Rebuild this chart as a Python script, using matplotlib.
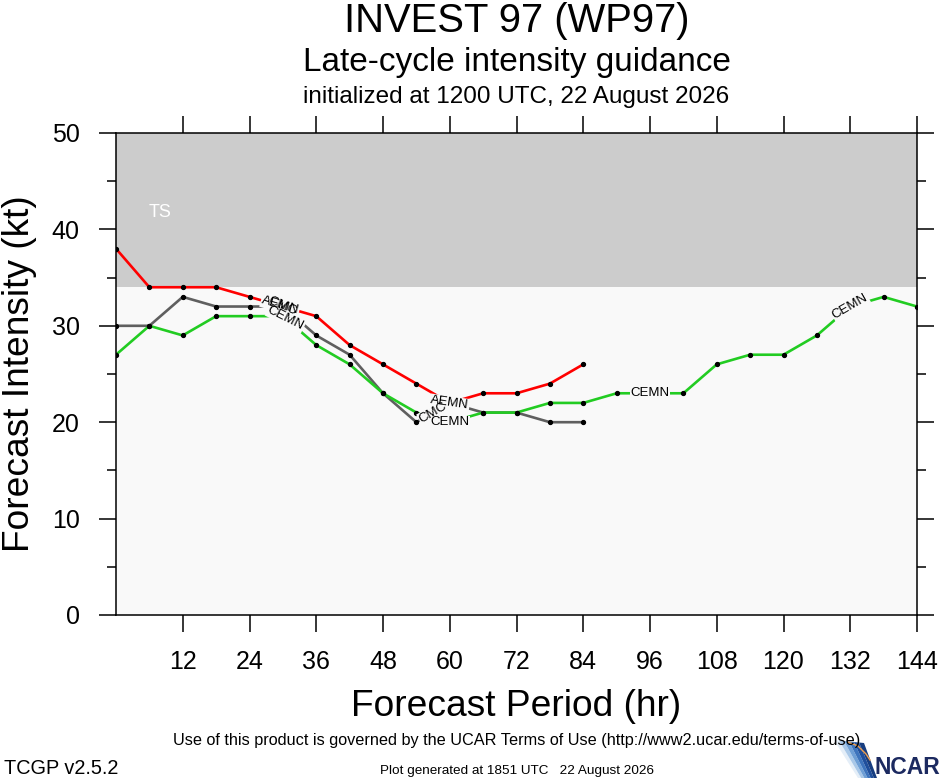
import numpy as np
import matplotlib
matplotlib.use("Agg")
from matplotlib import pyplot as plt
from matplotlib.patches import Polygon

plt.rcParams['font.family'] = ['Liberation Sans', 'DejaVu Sans']

# forecast data (kt)
hours_short = [0, 6, 12, 18, 24, 30, 36, 42, 48, 54, 60, 66, 72, 78, 84]
aemn = [38, 34, 34, 34, 33, 32, 31, 28, 26, 24, 22, 23, 23, 24, 26]
cmc = [30, 30, 33, 32, 32, 32, 29, 27, 23, 20, 22, 21, 21, 20, 20]
hours_long = [0, 6, 12, 18, 24, 30, 36, 42, 48, 54, 60, 66, 72, 78, 84,
              90, 96, 102, 108, 114, 120, 126, 132, 138, 144]
cemn = [27, 30, 29, 31, 31, 31, 28, 26, 23, 21, 20, 21, 21, 22, 22,
        23, 23, 23, 26, 27, 27, 29, 32, 33, 32]

# where the model names sit along each line
aemn_label_hours = [29.5, 60]
cmc_label_hours = [30, 57]
cemn_label_hours = [30.5, 60, 96, 132]

xticks = [12, 24, 36, 48, 60, 72, 84, 96, 108, 120, 132, 144]
yticks = [0, 10, 20, 30, 40, 50]

ts_threshold = 34
low_bg = '#f9f9f9'

fig = plt.figure(figsize=(9.4, 7.8), dpi=100)
ax = fig.add_axes([116 / 940, 1 - 615 / 780, 801 / 940, 482 / 780])
ax.set_xlim(0, 144)
ax.set_ylim(0, 50)

# intensity bands
ax.axhspan(0, ts_threshold, color=low_bg, zorder=0, lw=0)
ax.axhspan(ts_threshold, 50, color='#cccccc', zorder=0, lw=0)
ax.text(8, 41.8, 'TS', color='white', fontsize=13, ha='center', va='center')

series = [
    (hours_short, aemn, '#ff0000', 'AEMN', aemn_label_hours),
    (hours_short, cmc, '#5f5f5f', 'CMC', cmc_label_hours),
    (hours_long, cemn, '#22cc22', 'CEMN', cemn_label_hours),
]

for hrs, vals, col, name, lab in series:
    ax.plot(hrs, vals, color=col, lw=1.9, zorder=2, solid_capstyle='butt')
    ax.plot(hrs, vals, ls='none', marker='o', ms=2.8, color='black', zorder=3)

# labels along lines: first mask boxes, then text on top
trans = ax.transData
for hrs, vals, col, name, lab in series:
    for h in lab:
        y = np.interp(h, hrs, vals)
        h0, h1 = max(h - 3, hrs[0]), min(h + 3, hrs[-1])
        p0 = trans.transform((h0, np.interp(h0, hrs, vals)))
        p1 = trans.transform((h1, np.interp(h1, hrs, vals)))
        ang = np.degrees(np.arctan2(p1[1] - p0[1], p1[0] - p0[0]))
        ax.text(h, y, name, fontsize=9.5, ha='center', va='center',
                rotation=ang, rotation_mode='anchor', color='none',
                bbox=dict(facecolor=low_bg, edgecolor='none', pad=0.5),
                zorder=4)
        ax.text(h, y, name, fontsize=9.5, ha='center', va='center',
                rotation=ang, rotation_mode='anchor', color='black', zorder=5)

ax.set_xticks(xticks)
ax.set_yticks(yticks)
ax.set_yticks([5, 15, 25, 35, 45], minor=True)
ax.tick_params(axis='both', which='major', direction='out', length=12.2,
               width=1.1, labelsize=18, pad=13,
               top=True, right=True)
ax.tick_params(axis='y', which='minor', direction='out', length=6.2,
               width=1.1, left=True, right=True)
ax.tick_params(axis='y', which='major', pad=14)
for sp in ax.spines.values():
    sp.set_linewidth(1.1)

ax.set_xlabel('Forecast Period (hr)', fontsize=26.7, labelpad=11)
ax.set_ylabel('Forecast Intensity (kt)', fontsize=26.7)
ax.yaxis.set_label_coords(-0.099, 0.5)

# titles
cx = 516.5 / 940
fig.text(cx, 1 - 21 / 780, 'INVEST 97 (WP97)', fontsize=28.8,
         ha='center', va='center')
fig.text(cx, 1 - 63 / 780, 'Late-cycle intensity guidance', fontsize=24,
         ha='center', va='center')
fig.text(cx, 1 - 97 / 780, 'initialized at 1200 UTC, 22 August 2026',
         fontsize=17.5, ha='center', va='center')

# footer
fig.text(cx, 1 - 741 / 780,
         'Use of this product is governed by the UCAR Terms of Use '
         '(http://www2.ucar.edu/terms-of-use)',
         fontsize=11.7, ha='center', va='center')
fig.text(4 / 940, 1 - 768 / 780, 'TCGP v2.5.2', fontsize=14.3,
         ha='left', va='center')
fig.text(517 / 940, 1 - 771 / 780,
         'Plot generated at 1851 UTC   22 August 2026',
         fontsize=9.7, ha='center', va='center')

# NCAR logo
def px(x, y):
    return (x / 940, 1 - y / 780)

shades = ['#e4eef8', '#a9c8e8', '#6e9fd6', '#3d74bd', '#1f4f9c', '#173d80']
n = len(shades)
for i, c in enumerate(shades):
    a, b = i / n, (i + 1) / n
    fig.patches.append(Polygon([px(834 + 30 * a, 740 + 3 * a),
                                px(834 + 30 * b, 740 + 3 * b),
                                px(858 + 19 * b, 778),
                                px(858 + 19 * a, 778)],
                               closed=True, transform=fig.transFigure,
                               facecolor=c, edgecolor='none'))
fig.lines.append(plt.Line2D([848 / 940, 858 / 940, 866 / 940, 870 / 940],
                            [1 - 742 / 780, 1 - 746 / 780, 1 - 754 / 780,
                             1 - 760 / 780],
                            transform=fig.transFigure, color='#f0a050', lw=1))
fig.text(874 / 940, 1 - 768 / 780, 'NCAR', fontsize=16.5, color='#1c2a60',
         fontweight='bold', ha='left', va='center')

plt.savefig('out.png', dpi=100)
